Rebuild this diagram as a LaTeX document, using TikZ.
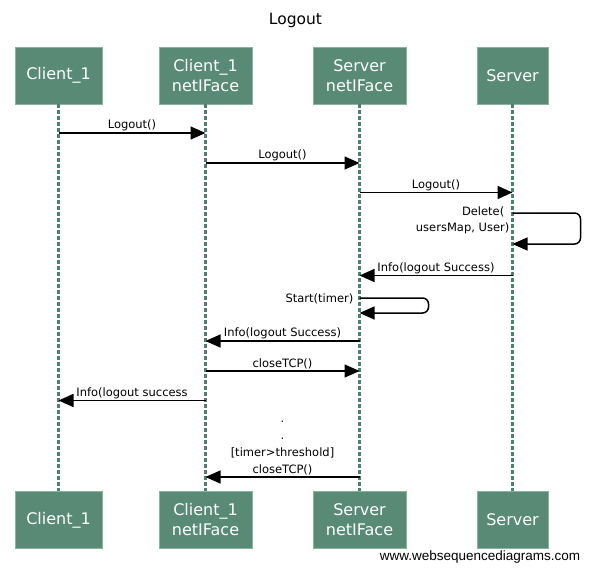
\documentclass[tikz,border=0pt]{standalone}
\usepackage{fontspec}
\setmainfont{DejaVu Sans}
\newfontfamily\webfont{Liberation Sans}
\usetikzlibrary{arrows.meta,positioning}
\definecolor{boxgreen}{RGB}{88,138,118}
\definecolor{boxedge}{RGB}{140,178,162}
\definecolor{lifegreen}{RGB}{78,128,110}
\tikzset{
  actor/.style={draw=boxedge,fill=boxgreen,text=white,align=center,
    minimum height=57pt,inner sep=2pt,font=\fontsize{16}{20}\selectfont},
  lifeline/.style={lifegreen,line width=2.5pt,dash pattern=on 4pt off 2pt},
  msg/.style={line width=1.5pt,-{Triangle[length=15pt,width=13pt]}},
  lbl/.style={font=\fontsize{11.5}{16.5}\selectfont,inner sep=1pt}
}
\begin{document}
\begin{tikzpicture}[x=1pt,y=-1pt]
  \useasboundingbox (0,0) rectangle (591,572);
  \node[font=\fontsize{15.5}{18}\selectfont] (title) at (295.5,20) {Logout};
  \node[actor,minimum width=87pt] (a) at (58.5,75.5) {Client\_1};
  \node[actor,minimum width=93pt] (b) at (205.5,75.5) {Client\_1\\netIFace};
  \node[actor,minimum width=93pt] (c) at (359.5,75.5) {Server\\netIFace};
  \node[actor,minimum width=71pt] (d) at (512.5,75.5) {Server};
  \node[actor,minimum width=87pt] (a2) at (58.5,520) {Client\_1};
  \node[actor,minimum width=93pt] (b2) at (205.5,520) {Client\_1\\netIFace};
  \node[actor,minimum width=93pt] (c2) at (359.5,520) {Server\\netIFace};
  \node[actor,minimum width=71pt] (d2) at (512.5,520) {Server};
  \draw[lifeline] (a) -- (a2);
  \draw[lifeline] (b) -- (b2);
  \draw[lifeline] (c) -- (c2);
  \draw[lifeline] (d) -- (d2);
  \coordinate (m1) at (0,133);
  \coordinate (m2) at (0,163);
  \coordinate (m3) at (0,192.5);
  \coordinate (m4) at (0,213);
  \coordinate (m4e) at (0,244);
  \coordinate (m5) at (0,275.5);
  \coordinate (m6) at (0,298);
  \coordinate (m6e) at (0,313);
  \coordinate (m7) at (0,341);
  \coordinate (m8) at (0,371);
  \coordinate (m9) at (0,400.5);
  \coordinate (m10) at (0,477);
  \draw[msg] (a |- m1) -- node[lbl,above] {Logout()} (b |- m1);
  \draw[msg] (b |- m2) -- node[lbl,above] {Logout()} (c |- m2);
  \draw[msg] (c |- m3) -- node[lbl,above] {Logout()} (d |- m3);
  \draw[msg,rounded corners=6pt] (d |- m4) -- ++(68,0) |- (d |- m4e);
  \node[lbl,align=right,anchor=north east] (del) at ([xshift=-2pt,yshift=7.5pt]d |- m4) {Delete(\hspace*{5pt}\\usersMap, User)};
  \draw[msg] (d |- m5) -- node[lbl,above] {Info(logout Success)} (c |- m5);
  \draw[msg,rounded corners=6pt] (c |- m6) -- ++(69,0) |- (c |- m6e);
  \node[lbl,anchor=east] (start) at ([xshift=-5pt,yshift=-1pt]c |- m6) {Start(timer)};
  \draw[msg] (c |- m7) -- node[lbl,above] {Info(logout Success)} (b |- m7);
  \draw[msg] (b |- m8) -- node[lbl,above] {closeTCP()} (c |- m8);
  \draw[msg] (b |- m9) -- node[lbl,above] {Info(logout success} (a |- m9);
  \draw[msg] (c |- m10) -- node[lbl,above,align=center,font=\fontsize{11.5}{17}\selectfont] {.\\.\\{}[timer>threshold]\\closeTCP()} (b |- m10);
  \node[font=\webfont\fontsize{13.5}{16}\selectfont] (web) at (480,557) {www.websequencediagrams.com};
\end{tikzpicture}
\end{document}
